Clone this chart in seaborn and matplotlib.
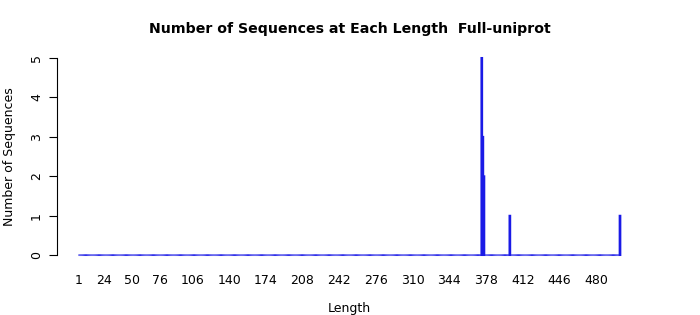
import numpy as np
import pandas as pd
import matplotlib
matplotlib.use("Agg")
import matplotlib.pyplot as plt
import seaborn as sns

# Data
max_length = 502
peak_lengths = [374, 375, 376, 400, 502]
peak_counts = [5, 3, 2, 1, 1]
x_tick_labels = [1, 24, 50, 76, 106, 140, 174, 208, 242, 276, 310, 344, 378, 412, 446, 480]
y_ticks = [0, 1, 2, 3, 4, 5]

lengths = np.arange(1, max_length + 1)
counts = np.zeros(len(lengths), dtype=int)
for L, c in zip(peak_lengths, peak_counts):
    counts[L - 1] = c
df = pd.DataFrame({"Length": lengths, "Count": counts})

sns.set_style("white")
plt.rcParams['font.family'] = ['DejaVu Sans']
plt.rcParams['text.color'] = 'black'
plt.rcParams['axes.labelcolor'] = 'black'
plt.rcParams['xtick.color'] = 'black'
plt.rcParams['ytick.color'] = 'black'

fig = plt.figure(figsize=(7, 3.15), dpi=100)
ax = fig.add_axes([57 / 700, (315 - 263) / 315, (642 - 57) / 700, (263 - 50) / 315])

sns.barplot(data=df, x="Length", y="Count", native_scale=True, color="#0000ff",
            width=0.83, edgecolor="#1a1ae6", linewidth=1.3, saturation=1, ax=ax)
for p in ax.patches:
    p.set_snap(False)

ax.set_xlim(1 - 22 / 1.0798, max_length + 22 / 1.0798)
ax.set_ylim(-0.2, 5.2)

for s in ["top", "right", "bottom"]:
    ax.spines[s].set_visible(False)
ax.spines["left"].set_bounds(0, 5)
ax.spines["left"].set_color("black")
ax.spines["left"].set_linewidth(0.8)

ax.set_yticks(y_ticks)
ax.set_yticklabels([str(v) for v in y_ticks], rotation=90, va="center", fontsize=9)
ax.tick_params(axis="y", length=6, width=0.8, color="black", pad=4, left=True)

ax.set_xticks(x_tick_labels)
ax.set_xticklabels([str(v) for v in x_tick_labels], fontsize=9)
ax.tick_params(axis="x", length=0, pad=8)

ax.set_xlabel("Length", fontsize=9, labelpad=11)
ax.set_ylabel("Number of Sequences", fontsize=9, labelpad=10)
fig.suptitle("Number of Sequences at Each Length  Full-uniprot", fontsize=10.2,
             fontweight="bold", x=350 / 700, y=1 - 29 / 315, va="center")

fig.savefig("out.png", dpi=100)
